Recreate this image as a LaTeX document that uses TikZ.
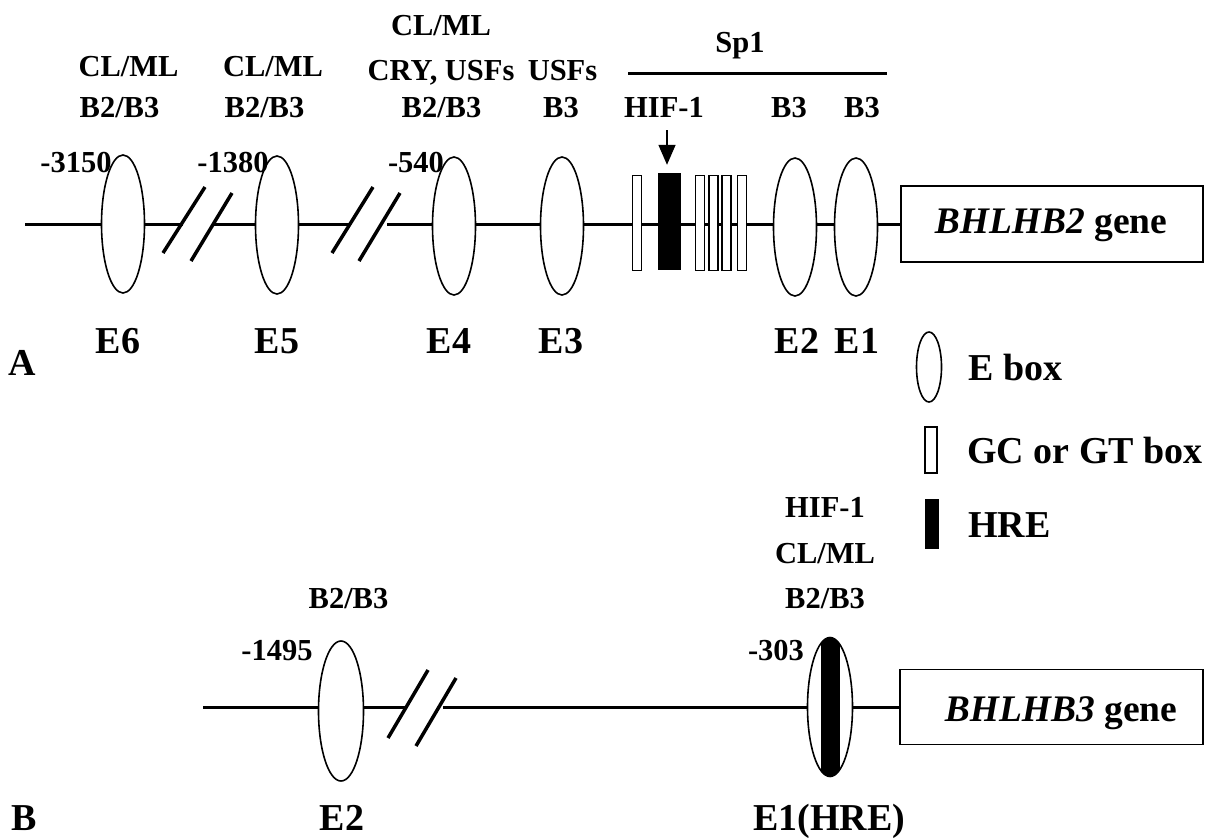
\documentclass[tikz,border=0pt]{standalone}
\usepackage{fontspec}
\setmainfont{Liberation Serif}
\usetikzlibrary{shapes.geometric,arrows.meta}
\begin{document}
\begin{tikzpicture}[x=1pt,y=-1pt,
  ebox/.style={draw,ellipse,line width=1.6pt,fill=white,inner sep=0pt,minimum width=43pt,minimum height=138pt},
  gcbox/.style={draw,rectangle,line width=1.5pt,fill=white,inner sep=0pt,minimum width=9pt,minimum height=95pt},
  hrebox/.style={draw,rectangle,fill=black,inner sep=0pt,minimum width=22pt,minimum height=96pt},
  dna/.style={line width=3pt},
  brk/.style={line width=3.5pt},
  lbl/.style={font=\fontsize{30.5}{33}\selectfont\bfseries,inner sep=0pt,anchor=base},
  big/.style={font=\fontsize{38}{41}\selectfont\bfseries,inner sep=0pt,anchor=base},
  genebox/.style={draw,rectangle,line width=1.6pt,inner sep=0pt,fill=white},
  genetxt/.style={font=\fontsize{37.5}{41}\selectfont\bfseries,inner sep=0pt,anchor=base},
]
\useasboundingbox (0,0) rectangle (1206,839);

% ---------------- Panel A ----------------
\coordinate (sA) at (25,224);
\coordinate (b1a) at (183,224);
\coordinate (b1b) at (214,224);
\coordinate (b2a) at (350,224);
\coordinate (b2b) at (387,224);
\node[genebox,minimum width=302pt,minimum height=76pt] (geneA) at (1052,224) {};
\draw[dna] (sA) -- (b1a);
\draw[dna] (b1b) -- (b2a);
\draw[dna] (b2b) -- (geneA.west);

\node[ebox] (e6) at (123,224) {};
\node[ebox] (e5) at (277,225) {};
\node[ebox] (e4) at (454,226) {};
\node[ebox] (e3) at (562,226) {};
\node[ebox] (e2) at (795,227) {};
\node[ebox] (e1) at (856,227) {};

\node[gcbox] (gc1) at (637,223) {};
\node[hrebox] (hre) at (669,221) {};
\node[gcbox] (gc2) at (700,223) {};
\node[gcbox] (gc3) at (713.5,223) {};
\node[gcbox] (gc4) at (726.5,223) {};
\node[gcbox] (gc5) at (742,223) {};

% break marks
\coordinate (s1a) at (163,253); \coordinate (s1b) at (205,187);
\coordinate (s2a) at (191,261); \coordinate (s2b) at (232,193);
\coordinate (s3a) at (332,253); \coordinate (s3b) at (373,187);
\coordinate (s4a) at (359,261); \coordinate (s4b) at (400,193);
\draw[brk] (s1a) -- (s1b);
\draw[brk] (s2a) -- (s2b);
\draw[brk] (s3a) -- (s3b);
\draw[brk] (s4a) -- (s4b);

% HIF-1 arrow
\coordinate (arA) at (667,130);
\draw[line width=1.5pt,-{Triangle[length=20pt,width=17pt]},shorten >=8pt] (arA) -- (arA |- hre.north);

% Sp1 bar
\coordinate (sp1a) at (628,73);
\coordinate (sp1b) at (887,73);
\draw[dna] (sp1a) -- (sp1b);
\node[lbl] (tsp1) at (740,52) {Sp1};

% top labels
\node[lbl] (t6a) at (128.5,76) {CL/ML};
\node[lbl] (t6b) at (119.5,117) {B2/B3};
\node[lbl] (t5a) at (273,76) {CL/ML};
\node[lbl] (t5b) at (264.5,117) {B2/B3};
\node[lbl] (t4a) at (441,35) {CL/ML};
\node[lbl] (t4b) at (441,80) {CRY, USFs};
\node[lbl] (t4c) at (441.5,117) {B2/B3};
\node[lbl] (t3a) at (562.5,80) {USFs};
\node[lbl] (t3b) at (561,117) {B3};
\node[lbl] (thif) at (664,117) {HIF-1};
\node[lbl] (t2) at (789,117) {B3};
\node[lbl] (t1) at (862,117) {B3};

\node[lbl] (n3150) at (76,172) {-3150};
\node[lbl] (n1380) at (233,172) {-1380};
\node[lbl] (n540) at (416,172) {-540};

\node[big] (l6) at (118,353) {E6};
\node[big] (l5) at (277,353) {E5};
\node[big] (l4) at (449,353) {E4};
\node[big] (l3) at (561,353) {E3};
\node[big] (l2) at (797,353) {E2};
\node[big] (l1) at (857,353) {E1};
\node[big] (pA) at (22.5,375) {A};

\node[genetxt] (gtA) at (1051,233) {\textit{BHLHB2} gene};

% ---------------- Legend ----------------
\node[ebox,minimum width=25pt,minimum height=70pt] (lge) at (929,367) {};
\node[big,anchor=base west] (lgeT) at (968,380) {E box};
\node[gcbox,minimum width=12pt,minimum height=46pt] (lgc) at (931,450) {};
\node[big,anchor=base west] (lgcT) at (967,463) {GC or GT box};
\node[hrebox,minimum width=13pt,minimum height=49pt] (lhre) at (932,524) {};
\node[big,anchor=base west] (lhreT) at (968,537) {HRE};

% ---------------- Panel B ----------------
\coordinate (sB) at (203,707);
\coordinate (bb1) at (407,707);
\coordinate (bb2) at (443,707);
\node[genebox,minimum width=303pt,minimum height=75pt] (geneB) at (1051.5,707) {};
\draw[dna] (sB) -- (bb1);
\draw[dna] (bb2) -- (geneB.west);

\node[ebox,minimum width=45pt,minimum height=140pt] (be2) at (341,711) {};
\node[ebox,minimum width=45pt,minimum height=139pt,
  path picture={\fill[black] ([xshift=-9.5pt]path picture bounding box.south) rectangle ([xshift=9.5pt]path picture bounding box.north);}] (be1) at (830,707) {};

\coordinate (s5a) at (388,738); \coordinate (s5b) at (428,670);
\coordinate (s6a) at (416,746); \coordinate (s6b) at (456,678);
\draw[brk] (s5a) -- (s5b);
\draw[brk] (s6a) -- (s6b);

\node[lbl] (bt2) at (348.5,608) {B2/B3};
\node[lbl] (bt1a) at (825,517) {HIF-1};
\node[lbl] (bt1b) at (825,563) {CL/ML};
\node[lbl] (bt1c) at (825,608) {B2/B3};
\node[lbl] (n1495) at (277,660) {-1495};
\node[lbl] (n303) at (776,660) {-303};

\node[big] (bl2) at (342,830) {E2};
\node[big] (bl1) at (829,830) {E1(HRE)};
\node[big] (pB) at (24,830) {B};

\node[genetxt] (gtB) at (1061,721) {\textit{BHLHB3} gene};
\end{tikzpicture}
\end{document}
